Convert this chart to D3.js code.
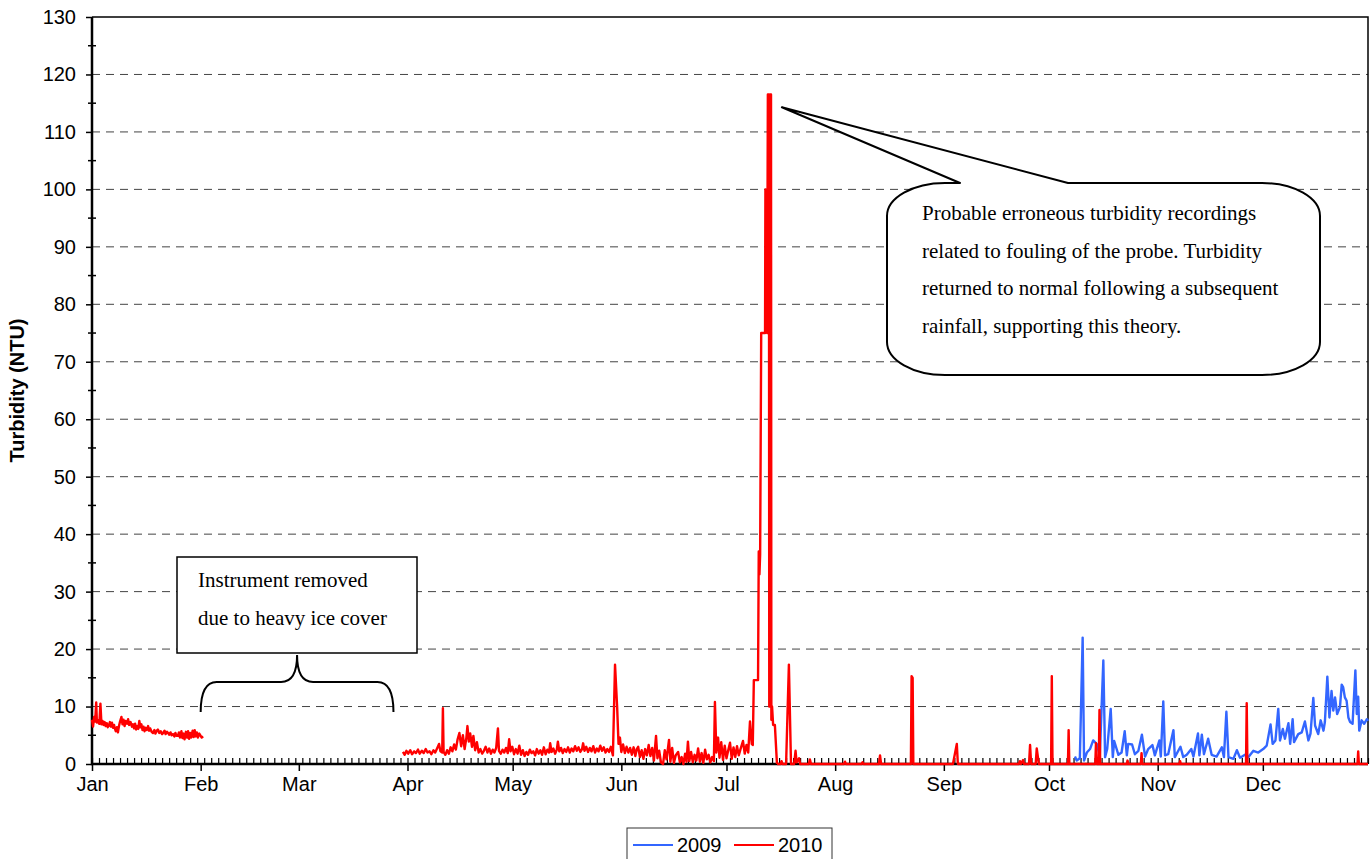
<!DOCTYPE html>
<html>
<head>
<meta charset="utf-8">
<script src="https://cdn.jsdelivr.net/npm/d3@7"></script>
<style>
  body { margin: 0; background: #fff; }
  svg { display: block; }
  .tick text { font-family: "Liberation Sans", Arial, sans-serif; }
</style>
</head>
<body>
<div id="chart"></div>
<script>
// month axis (day of year where each month starts) and labels
var monthStarts = [0, 31, 59, 90, 120, 151, 181, 212, 243, 273, 304, 334];
var monthLabels = ["Jan", "Feb", "Mar", "Apr", "May", "Jun", "Jul", "Aug", "Sep", "Oct", "Nov", "Dec"];
var yTicks = [0, 10, 20, 30, 40, 50, 60, 70, 80, 90, 100, 110, 120, 130];
var seriesNames = ["2009", "2010"];

// 2010 turbidity, [day of year, NTU] -- January, before ice cover
var jan2010 = [
  [0, 7.7], [0.3, 6.5], [0.6, 8.2], [0.9, 7.4], [1.2, 10.7], [1.4, 7.2], [1.8, 7.6], [2.1, 7.0],
  [2.4, 10.5], [2.7, 6.9], [3.0, 7.5], [3.3, 6.8], [3.6, 7.3], [3.9, 6.6], [4.2, 7.1], [4.5, 6.4],
  [4.8, 6.7], [5.1, 7.3], [5.4, 6.5], [5.7, 7.2], [6.0, 6.3], [6.3, 6.8], [6.5, 6.2], [6.8, 5.7],
  [7.1, 6.4], [7.4, 5.5], [7.7, 6.6], [8.0, 7.4], [8.4, 8.2], [8.7, 6.9], [9.0, 7.7], [9.3, 6.6],
  [9.6, 7.5], [10.0, 7.0], [10.3, 7.8], [10.6, 6.8], [11.0, 7.3], [11.4, 6.5], [11.7, 6.9], [12.0, 6.2],
  [12.3, 7.0], [12.6, 6.0], [12.9, 6.6], [13.2, 6.1], [13.5, 7.5], [13.8, 6.4], [14.1, 6.9], [14.4, 5.9],
  [14.7, 6.5], [15.0, 5.7], [15.3, 6.3], [15.6, 5.9], [16.0, 6.6], [16.3, 5.8], [16.6, 6.2], [17.0, 5.6],
  [17.4, 5.4], [17.8, 5.9], [18.1, 5.3], [18.5, 5.8], [18.8, 6.0], [19.2, 5.4], [19.6, 5.7], [20.0, 5.2],
  [20.3, 5.4], [20.7, 5.8], [21.0, 5.2], [21.4, 5.6], [21.7, 5.4], [22.0, 5.1], [22.4, 5.5], [22.7, 5.0],
  [23.1, 5.2], [23.5, 4.8], [23.8, 5.4], [24.1, 4.9], [24.5, 4.9], [24.8, 5.5], [25.1, 4.6], [25.5, 5.7],
  [25.8, 4.5], [26.1, 5.3], [26.4, 4.3], [26.8, 5.6], [27.1, 4.6], [27.4, 5.7], [27.7, 4.4], [28.0, 5.4],
  [28.3, 4.6], [28.7, 5.8], [29.0, 4.7], [29.3, 5.9], [29.6, 4.8], [29.9, 5.5], [30.2, 4.6], [30.6, 5.3],
  [31.0, 4.9], [31.3, 4.6], [31.7, 4.8]
];

// 2010, instrument back in from end of March to the July fouling event
var spring2010 = [
  [88.7, 2.1], [89.2, 1.6], [89.7, 2.3], [90.2, 1.8], [90.8, 2.4], [91.3, 1.7], [91.9, 2.2], [92.4, 1.9],
  [93.0, 2.5], [93.5, 1.8], [94.1, 2.3], [94.6, 1.9], [95.2, 2.6], [95.7, 2.0], [96.3, 2.2], [96.8, 1.7],
  [97.4, 2.4], [97.9, 2.0], [98.5, 2.8], [99.0, 3.5], [99.4, 2.2], [99.9, 2.0], [100.1, 9.7], [100.3, 2.1],
  [100.8, 1.6], [101.3, 2.4], [101.8, 1.8], [102.3, 2.9], [102.8, 2.2], [103.3, 3.4], [103.8, 2.5], [104.3, 4.3],
  [104.8, 5.4], [105.3, 3.1], [105.8, 5.0], [106.3, 2.6], [106.8, 4.6], [107.1, 6.6], [107.5, 3.9], [107.9, 5.3],
  [108.4, 3.0], [108.8, 4.9], [109.3, 2.4], [109.8, 3.8], [110.3, 2.0], [110.8, 2.6], [111.3, 1.8], [111.8, 2.3],
  [112.3, 3.0], [112.8, 2.0], [113.3, 2.7], [113.8, 1.8], [114.3, 2.5], [114.8, 2.0], [115.3, 2.8], [115.8, 6.2],
  [116.1, 2.3], [116.6, 1.8], [117.1, 2.5], [117.6, 2.0], [118.1, 2.8], [118.6, 1.9], [119.0, 4.3], [119.4, 2.2],
  [119.9, 3.0], [120.4, 1.7], [120.9, 2.6], [121.4, 1.8], [121.9, 3.2], [122.4, 1.6], [122.9, 2.4], [123.4, 1.4],
  [123.9, 2.1], [124.4, 1.6], [124.9, 2.5], [125.4, 1.9], [125.9, 2.2], [126.4, 1.5], [126.9, 2.6], [127.4, 1.8],
  [127.9, 2.4], [128.4, 1.6], [128.9, 2.9], [129.4, 1.7], [129.9, 2.5], [130.4, 2.0], [130.7, 3.6], [131.1, 2.1],
  [131.6, 2.7], [132.1, 1.8], [132.6, 2.5], [132.9, 3.9], [133.3, 2.2], [133.8, 2.8], [134.3, 1.9], [134.8, 2.6],
  [135.3, 2.1], [135.8, 2.9], [136.3, 2.0], [136.8, 2.7], [137.3, 2.2], [137.8, 3.1], [138.3, 2.3], [138.8, 2.9],
  [139.3, 2.1], [139.8, 2.6], [140.1, 3.6], [140.5, 2.3], [141.0, 3.0], [141.5, 2.1], [142.0, 2.8], [142.5, 2.2],
  [143.0, 3.1], [143.5, 2.0], [144.0, 2.7], [144.5, 2.2], [145.0, 3.2], [145.5, 2.3], [146.0, 2.9], [146.5, 2.0],
  [147.0, 2.6], [147.5, 2.1], [148.0, 3.0], [148.6, 1.5], [149.2, 17.3], [149.8, 10.0], [150.2, 3.5], [150.6, 4.6],
  [151.0, 2.1], [151.5, 3.4], [152.0, 1.9], [152.5, 3.0], [153.0, 2.0], [153.5, 2.8], [154.0, 1.6], [154.5, 2.9],
  [155.0, 1.4], [155.4, 2.6], [155.8, 3.0], [156.3, 1.2], [156.8, 2.4], [157.3, 0.9], [157.8, 2.6], [158.3, 1.5],
  [158.8, 3.3], [159.3, 1.4], [159.8, 2.8], [160.3, 0.6], [160.9, 4.9], [161.3, 1.0], [161.8, 2.3], [162.3, 0.3],
  [162.9, 0], [163.4, 2.4], [163.9, 0.8], [164.6, 4.2], [165.0, 0.4], [165.5, 2.8], [166.0, 0.2], [166.5, 1.5],
  [167.2, 2.1], [167.7, 0.3], [168.2, 1.2], [168.7, 0], [169.2, 1.8], [169.6, 0.4], [170.0, 3.9], [170.4, 0.5],
  [170.9, 2.1], [171.4, 0.3], [171.9, 1.6], [172.4, 0.6], [172.9, 2.7], [173.4, 0.4], [173.9, 1.9], [174.4, 0.2],
  [174.9, 2.5], [175.4, 0.8], [175.9, 1.6], [176.4, 0.3], [176.9, 1.2], [177.4, 0.5], [177.7, 10.8], [178.1, 2.0],
  [178.6, 4.6], [179.0, 1.1], [179.5, 3.8], [180.0, 0.7], [180.5, 3.2], [181.0, 1.0], [181.5, 2.4], [182.0, 3.7],
  [182.5, 0.9], [183.0, 2.9], [183.5, 1.2], [184.0, 3.1], [184.5, 1.5], [185.0, 2.6], [185.7, 4.0], [186.2, 1.8],
  [186.7, 3.3], [187.2, 2.0], [187.7, 7.4], [188.2, 3.5], [188.5, 3.3], [188.8, 14.6], [190.0, 14.6], [190.2, 37.0],
  [190.4, 33.0], [190.6, 36.5], [190.9, 75.0], [192.0, 75.0], [192.1, 100.0], [192.3, 87.0], [192.6, 75.0], [192.8, 116.5],
  [193.1, 116.5], [193.2, 10.0], [193.4, 116.5], [193.7, 116.5], [193.8, 7.7], [194.0, 10.0], [194.3, 6.8], [194.8, 6.8],
  [195.4, 0]
];

// 2010, after the probe was cleaned: mostly zero with isolated events
var fall2010 = [
  [195.4, 0], [196.4, 0], [196.7, 0.5], [197.0, 0], [198.0, 0], [198.8, 17.3], [199.4, 0], [200.3, 0],
  [200.7, 2.3], [201.0, 0.3], [201.7, 1.0], [202.0, 0], [204.5, 0], [204.8, 0.8], [205.1, 0], [214.5, 0],
  [214.8, 0.4], [215.1, 0], [219.5, 0], [219.8, 0.3], [220.1, 0], [224.5, 0], [224.8, 1.5], [225.1, 0],
  [233.6, 0], [233.8, 15.3], [234.1, 15.0], [234.3, 0], [245.6, 0], [246.7, 3.5], [247.0, 0], [264.4, 0],
  [264.7, 0.5], [265.0, 0], [265.6, 0.7], [265.9, 0], [267.3, 0], [267.6, 3.3], [267.9, 0], [269.2, 0],
  [269.5, 2.7], [270.1, 0], [273.6, 0], [273.8, 15.3], [274.0, 0], [278.4, 0], [278.6, 5.9], [278.8, 0],
  [286.2, 0], [286.4, 3.6], [286.6, 0], [287.2, 0], [287.4, 9.4], [287.6, 0], [295.2, 0], [295.4, 0.6],
  [295.6, 0], [299.2, 0], [299.4, 1.9], [299.6, 0], [310.2, 0], [310.4, 0.5], [310.6, 0], [329.2, 0],
  [329.4, 10.6], [329.6, 0], [361.0, 0], [361.2, 2.2], [361.4, 0], [364, 0]
];

// 2009 turbidity, October to December
var data2009 = [
  [280.4, 1.3], [280.9, 0.6], [281.8, 1.0], [282.6, 22.0], [283.0, 0.6], [283.8, 2.0], [284.7, 2.6], [285.6, 4.1],
  [286.6, 3.5], [287.5, 1.5], [288.5, 18.0], [289.0, 1.2], [289.6, 2.6], [290.6, 9.6], [291.2, 1.2], [291.6, 4.0],
  [292.8, 1.6], [293.7, 2.0], [294.6, 5.7], [295.2, 1.5], [295.6, 3.5], [296.7, 3.4], [297.5, 1.7], [298.5, 2.3],
  [299.5, 5.1], [300.4, 1.3], [301.3, 2.6], [302.5, 3.3], [303.2, 1.5], [304.5, 4.1], [304.9, 1.3], [305.6, 10.9],
  [306.1, 1.5], [307.0, 1.7], [308.5, 5.9], [308.9, 1.2], [310.5, 3.0], [311.3, 1.2], [312.3, 1.6], [313.6, 2.6],
  [314.2, 1.3], [315.5, 5.3], [315.9, 1.5], [316.6, 5.1], [317.2, 1.7], [318.4, 4.4], [319.4, 1.6], [320.8, 1.3],
  [322.3, 2.9], [322.9, 1.2], [323.6, 9.1], [324.2, 1.2], [325.6, 0.9], [326.6, 2.4], [327.5, 1.1], [328.9, 1.6],
  [329.9, 1.2], [331.3, 2.3], [332.7, 2.0], [334.1, 2.6], [335.1, 3.2], [336.2, 6.9], [336.8, 3.5], [337.6, 4.1],
  [338.4, 9.6], [338.9, 4.1], [339.7, 6.1], [340.3, 4.4], [341.3, 7.1], [341.8, 3.5], [342.5, 7.8], [342.9, 3.8],
  [344.1, 5.2], [345.1, 5.5], [346.0, 7.4], [347.0, 4.1], [347.6, 5.3], [348.4, 11.5], [348.9, 6.7], [349.8, 5.2],
  [350.5, 7.6], [351.3, 5.8], [351.7, 7.3], [352.4, 15.2], [353.0, 8.1], [353.6, 12.7], [354.1, 9.3], [354.6, 11.6],
  [355.2, 8.7], [356.0, 9.9], [356.5, 13.8], [356.9, 13.4], [357.4, 11.6], [357.9, 11.0], [358.4, 8.1], [358.9, 7.3],
  [359.6, 7.0], [360.4, 16.3], [360.8, 8.7], [361.2, 11.7], [361.5, 5.8], [362.2, 7.6], [362.9, 7.0], [363.7, 7.8],
  [364, 7.5]
];

var colors = { "2009": "#3366ff", "2010": "#ff0000" };

var width = 1370, height = 859;
var margin = { top: 17, right: 2, bottom: 95, left: 92 };
var sansFont = "'Liberation Sans', Arial, sans-serif";
var serifFont = "'Liberation Serif', 'Times New Roman', serif";

var svg = d3.select("#chart").append("svg")
    .attr("width", width)
    .attr("height", height);

var x = d3.scaleLinear().domain([0, 364]).range([margin.left, width - margin.right]);
var y = d3.scaleLinear().domain([0, 130]).range([height - margin.bottom, margin.top]);

// dashed gridlines
svg.append("g").selectAll("line")
    .data(yTicks.filter(function (d) { return d > 0 && d < 130; }))
    .enter().append("line")
    .attr("x1", x(0)).attr("x2", x(364))
    .attr("y1", function (d) { return y(d); })
    .attr("y2", function (d) { return y(d); })
    .attr("stroke", "#444")
    .attr("stroke-width", 1)
    .style("stroke-dasharray", "8,6");

// plot frame (top and right)
svg.append("path")
    .attr("d", "M" + x(0) + "," + y(130) + "H" + x(364) + "V" + y(0))
    .attr("fill", "none")
    .attr("stroke", "#000")
    .attr("stroke-width", 1.5);

// y axis
var yAxis = svg.append("g")
    .attr("transform", "translate(" + x(0) + ",0)")
    .call(d3.axisLeft(y).tickValues(yTicks).tickSize(6).tickPadding(10));
yAxis.select(".domain").remove();
yAxis.selectAll(".tick line").attr("stroke", "#000").attr("stroke-width", 1.5);
yAxis.selectAll(".tick text").style("font-size", "20px").attr("fill", "#000");

// y minor ticks, every 5 NTU, crossing the axis
svg.append("g").selectAll("line")
    .data(d3.range(5, 130, 10))
    .enter().append("line")
    .attr("x1", x(0) - 4).attr("x2", x(0) + 4)
    .attr("y1", function (d) { return y(d); })
    .attr("y2", function (d) { return y(d); })
    .attr("stroke", "#000")
    .attr("stroke-width", 1.5);

// x minor ticks every 2 days, pointing up
var xMinor = svg.append("g")
    .attr("transform", "translate(0," + y(0) + ")")
    .call(d3.axisTop(x).tickValues(d3.range(0, 365, 2)).tickSize(6).tickFormat(""));
xMinor.select(".domain").remove();
xMinor.selectAll(".tick line").attr("stroke", "#000").attr("stroke-width", 1.2);

// x axis, month starts
var xAxis = svg.append("g")
    .attr("transform", "translate(0," + y(0) + ")")
    .call(d3.axisBottom(x).tickValues(monthStarts).tickSize(7).tickPadding(6)
        .tickFormat(function (d, i) { return monthLabels[i]; }));
xAxis.select(".domain").remove();
xAxis.selectAll(".tick line").attr("stroke", "#000").attr("stroke-width", 1.5);
xAxis.selectAll(".tick text").style("font-size", "20px").attr("fill", "#000");

// main axis lines
svg.append("path")
    .attr("d", "M" + x(0) + "," + y(130) + "V" + y(0) + "H" + x(364))
    .attr("fill", "none")
    .attr("stroke", "#000")
    .attr("stroke-width", 2.5);

// axis title
svg.append("text")
    .attr("transform", "translate(24," + ((y(0) + y(130)) / 2) + ") rotate(-90)")
    .attr("text-anchor", "middle")
    .style("font-family", sansFont)
    .style("font-size", "20px")
    .style("font-weight", "bold")
    .text("Turbidity (NTU)");

// series lines
var line = d3.line()
    .x(function (d) { return x(d[0]); })
    .y(function (d) { return y(d[1]); });

var seriesData = [
    { name: "2009", data: data2009 },
    { name: "2010", data: jan2010 },
    { name: "2010", data: spring2010 },
    { name: "2010", data: fall2010 }
];

svg.append("g").selectAll("path")
    .data(seriesData)
    .enter().append("path")
    .attr("fill", "none")
    .attr("stroke", function (d) { return colors[d.name]; })
    .attr("stroke-width", 2.4)
    .attr("stroke-linejoin", "round")
    .attr("d", function (d) { return line(d.data); });

// note: instrument removed
var note1 = svg.append("g");
note1.append("rect")
    .attr("x", 177).attr("y", 557)
    .attr("width", 240).attr("height", 96)
    .attr("fill", "#fff")
    .attr("stroke", "#000")
    .attr("stroke-width", 1.5);
note1.selectAll("text")
    .data(["Instrument removed", "due to heavy ice cover"])
    .enter().append("text")
    .attr("x", 198)
    .attr("y", function (d, i) { return 587 + i * 38; })
    .style("font-family", serifFont)
    .style("font-size", "21px")
    .text(function (d) { return d; });

// brace spanning the gap in the record
var bL = x(31), bR = x(86), bM = (bL + bR) / 2;
var bBot = 712, bMid = 682, bTop = 655;
note1.append("path")
    .attr("d", "M" + bL + "," + bBot
        + "Q" + bL + "," + bMid + " " + (bL + 16) + "," + bMid
        + "L" + (bM - 16) + "," + bMid
        + "Q" + bM + "," + bMid + " " + bM + "," + bTop
        + "Q" + bM + "," + bMid + " " + (bM + 16) + "," + bMid
        + "L" + (bR - 16) + "," + bMid
        + "Q" + bR + "," + bMid + " " + bR + "," + bBot)
    .attr("fill", "none")
    .attr("stroke", "#000")
    .attr("stroke-width", 2);

// note: fouling callout with wedge
var cx0 = 887, cx1 = 1320, cy0 = 183, cy1 = 375, rx = 58, ry = 33;
var tipX = x(196.8), tipY = y(114.3);
var calloutPath = "M" + (cx0 + rx) + "," + cy0
    + "L960," + cy0
    + "L" + tipX + "," + tipY
    + "L1068," + cy0
    + "L" + (cx1 - rx) + "," + cy0
    + "A" + rx + "," + ry + " 0 0 1 " + cx1 + "," + (cy0 + ry)
    + "L" + cx1 + "," + (cy1 - ry)
    + "A" + rx + "," + ry + " 0 0 1 " + (cx1 - rx) + "," + cy1
    + "L" + (cx0 + rx) + "," + cy1
    + "A" + rx + "," + ry + " 0 0 1 " + cx0 + "," + (cy1 - ry)
    + "L" + cx0 + "," + (cy0 + ry)
    + "A" + rx + "," + ry + " 0 0 1 " + (cx0 + rx) + "," + cy0 + "Z";

var note2 = svg.append("g");
note2.append("path")
    .attr("d", calloutPath)
    .attr("fill", "#fff")
    .attr("stroke", "#000")
    .attr("stroke-width", 2)
    .attr("stroke-linejoin", "round");
note2.selectAll("text")
    .data([
        "Probable erroneous turbidity recordings",
        "related to fouling of the probe. Turbidity",
        "returned to normal following a subsequent",
        "rainfall, supporting this theory."
    ])
    .enter().append("text")
    .attr("x", 922)
    .attr("y", function (d, i) { return 220 + i * 37.7; })
    .style("font-family", serifFont)
    .style("font-size", "21px")
    .text(function (d) { return d; });

// legend
var legend = svg.append("g");
legend.append("rect")
    .attr("x", 627).attr("y", 828)
    .attr("width", 205).attr("height", 40)
    .attr("fill", "#fff")
    .attr("stroke", "#333")
    .attr("stroke-width", 1);
var legendItem = legend.selectAll("g")
    .data(seriesNames)
    .enter().append("g")
    .attr("transform", function (d, i) { return "translate(" + (633 + i * 101) + ",845)"; });
legendItem.append("line")
    .attr("x1", 0).attr("x2", 40)
    .attr("stroke", function (d) { return colors[d]; })
    .attr("stroke-width", 2);
legendItem.append("text")
    .attr("x", 44)
    .attr("dy", "0.36em")
    .style("font-family", sansFont)
    .style("font-size", "20px")
    .text(function (d) { return d; });
</script>
</body>
</html>
